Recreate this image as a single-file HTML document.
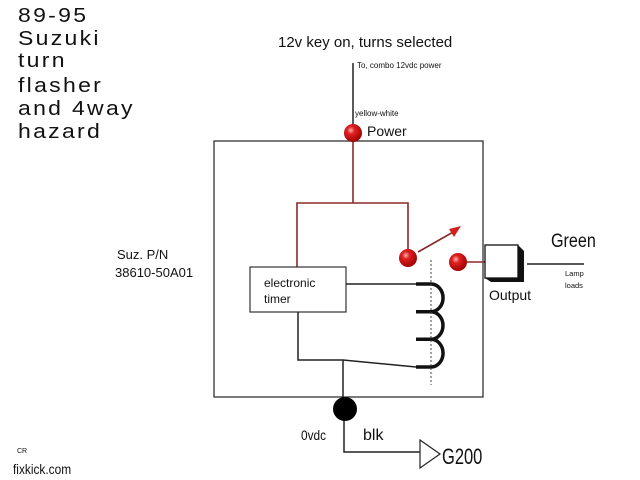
<!DOCTYPE html>
<html><head><style>
body{margin:0;background:#fff;width:640px;height:480px;overflow:hidden}
svg{display:block}
text{font-family:"Liberation Sans",sans-serif;fill:#111}
</style></head><body>
<svg width="640" height="480" viewBox="0 0 640 480">
<defs>
<radialGradient id="rb" cx="0.38" cy="0.35" r="0.7">
<stop offset="0" stop-color="#ffb0b0"/><stop offset="0.3" stop-color="#e02020"/><stop offset="1" stop-color="#900"/>
</radialGradient>
</defs>
<g font-size="20" letter-spacing="2" transform="translate(18,0) scale(1.15,1) translate(-18,0)">
<text x="18" y="22">89-95</text>
<text x="18" y="45">Suzuki</text>
<text x="18" y="67">turn</text>
<text x="18" y="92">flasher</text>
<text x="18" y="115">and 4way</text>
<text x="18" y="138">hazard</text>
</g>
<text x="278" y="47" font-size="15">12v key on, turns selected</text>
<text x="357" y="68" font-size="8">To, combo 12vdc power</text>
<text x="355" y="116" font-size="8">yellow-white</text>
<text x="367" y="136" font-size="14">Power</text>
<line x1="353" y1="63" x2="353" y2="125" stroke="#222" stroke-width="1.5"/>
<rect x="214" y="141" width="269" height="256" fill="none" stroke="#333" stroke-width="1.3"/>
<g stroke="#8b2a2a" stroke-width="1.6" fill="none">
<polyline points="353,141 353,203"/>
<polyline points="297,267 297,203 408,203 408,255"/>
<line x1="418" y1="252" x2="455" y2="231"/>
<line x1="466" y1="262" x2="485" y2="262"/>
</g>
<polygon points="461,226 449,229 454,237" fill="#d02020"/>
<text x="117" y="259" font-size="13">Suz. P/N</text>
<text x="115" y="277" font-size="13">38610-50A01</text>
<rect x="250" y="267" width="96" height="45" fill="#fff" stroke="#333" stroke-width="1.2"/>
<text x="264" y="287" font-size="12">electronic</text>
<text x="264" y="303" font-size="12">timer</text>
<g stroke="#222" stroke-width="1.5" fill="none">
<line x1="346" y1="284" x2="416" y2="284"/>
<polyline points="298,312 298,360 343,360 416,367"/>
<line x1="343" y1="360" x2="343" y2="400"/>
<polyline points="344,420 344,452 420,452"/>
<polygon points="420,440 440,454 420,468" fill="#fff" stroke-width="1.2"/>
<line x1="527" y1="264" x2="584" y2="264"/>
</g>
<path d="M416,284 H431 A12,13.8 0 0 1 431,311.7 H416 M431,311.7 A12,13.8 0 0 1 431,339.3 H416 M431,339.3 A12,13.8 0 0 1 431,367 H416" fill="none" stroke="#111" stroke-width="3.5"/>
<line x1="431" y1="260" x2="431" y2="385" stroke="#444" stroke-width="1" stroke-dasharray="2,2"/>
<circle cx="353" cy="133" r="9" fill="url(#rb)"/>
<circle cx="408" cy="258" r="9" fill="url(#rb)"/>
<circle cx="458" cy="262" r="9" fill="url(#rb)"/>
<polygon points="485,245 518,245 524,251 524,282 491,282 485,278" fill="#111"/>
<rect x="485" y="245" width="33" height="33" fill="#fff" stroke="#111" stroke-width="1.3"/>
<text x="489" y="300" font-size="14">Output</text>
<text x="551" y="247" font-size="19" transform="translate(551,0) scale(0.85,1) translate(-551,0)">Green</text>
<text x="565" y="276" font-size="7.5">Lamp</text>
<text x="565" y="288" font-size="7.5">loads</text>
<circle cx="345" cy="409" r="12" fill="#000"/>
<text x="301" y="440" font-size="14" transform="translate(301,0) scale(0.85,1) translate(-301,0)">0vdc</text>
<text x="363" y="440" font-size="16">blk</text>
<text x="442" y="464" font-size="22" transform="translate(442,0) scale(0.75,1) translate(-442,0)">G200</text>
<text x="17" y="453" font-size="7">CR</text>
<text x="13" y="474" font-size="14" transform="translate(13,0) scale(0.85,1) translate(-13,0)">fixkick.com</text>
</svg>
</body></html>
